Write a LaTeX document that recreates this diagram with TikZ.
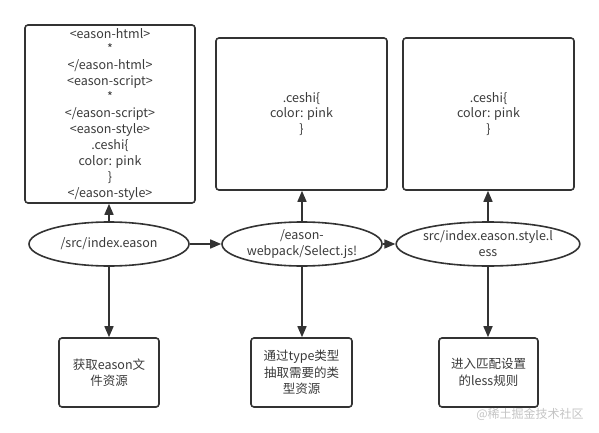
\documentclass[tikz,border=0pt]{standalone}
\usepackage{fontspec}
\setmainfont{Noto Sans CJK SC}
\usetikzlibrary{arrows.meta,shapes.geometric}
\definecolor{ink}{HTML}{333333}
\definecolor{txt}{HTML}{3A3A3A}
\definecolor{wm}{HTML}{C4C4C4}
\tikzset{
  every node/.style={font=\fontsize{12.5}{15.9}\selectfont, text=txt},
  codebox/.style={draw=ink, line width=1.6pt, rounded corners=3pt, align=center, inner sep=0pt},
  oval/.style={draw=ink, line width=1.6pt, ellipse, minimum width=160pt, minimum height=44pt, align=center, inner sep=0pt},
  link/.style={draw=ink, line width=1.6pt, -{Triangle[width=9pt,length=11pt]}}
}
\begin{document}
\begin{tikzpicture}[x=1pt,y=-1pt]
\useasboundingbox (0,0) rectangle (599,433);
\node[codebox, minimum width=170pt, minimum height=178pt] (b1) at (110,114)
  {<eason-html>\\*\\</eason-html>\\<eason-script>\\*\\</eason-script>\\<eason-style>\\.ceshi\{\\color: pink\\\}\\</eason-style>};
\node[codebox, minimum width=171pt, minimum height=152pt] (b2) at (301.5,114)
  {.ceshi\{\\color: pink\\\}};
\node[codebox, minimum width=171pt, minimum height=152pt] (b3) at (488.5,114)
  {.ceshi\{\\color: pink\\\}};
\node[oval] (e1) at (109,244) {/src/index.eason};
\node[oval] (e2) at (302,244) {/eason-\\webpack/Select.js!};
\node[oval] (e3) at (488,244) {src/index.eason.style.l\\ess};
\node[codebox, minimum width=100pt, minimum height=69pt, font=\fontsize{12.5}{16.5}\selectfont] (c1) at (109,372.5)
  {获取eason文\\件资源};
\node[codebox, minimum width=101pt, minimum height=69pt, font=\fontsize{12.5}{16.5}\selectfont] (c2) at (301.5,372.5)
  {通过type类型\\抽取需要的类\\型资源};
\node[codebox, minimum width=99pt, minimum height=69pt, font=\fontsize{12.5}{16.5}\selectfont] (c3) at (488.5,372.5)
  {进入匹配设置\\的less规则};
\node[text=wm, font=\fontsize{12}{14}\selectfont, anchor=center] (wmk) at (530,414) {@稀土掘金技术社区};
\draw[link] (e1.north) -- (e1.north |- b1.south);
\draw[link] (e2.north) -- (e2.north |- b2.south);
\draw[link] (e3.north) -- (e3.north |- b3.south);
\draw[link] (e1.east) -- (e2.west);
\draw[link] (e2.east) -- (e3.west);
\draw[link] (e1.south) -- (e1.south |- c1.north);
\draw[link] (e2.south) -- (e2.south |- c2.north);
\draw[link] (e3.south) -- (e3.south |- c3.north);
\end{tikzpicture}
\end{document}
